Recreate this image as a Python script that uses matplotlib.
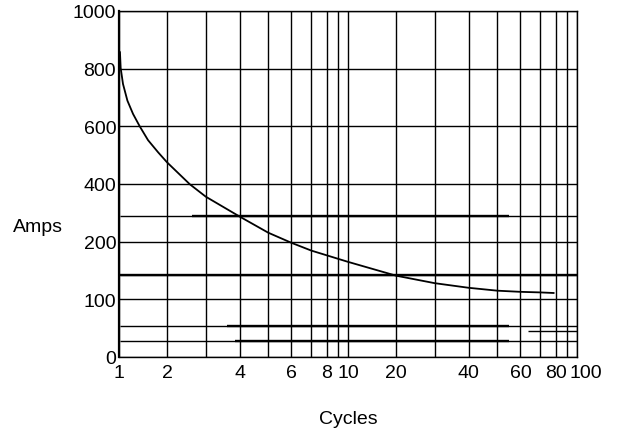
import numpy as np
import matplotlib
matplotlib.use("Agg")
import matplotlib.pyplot as plt
from matplotlib import transforms

# ---------------- data ----------------
cycles = [1.02, 1.035, 1.083, 1.175, 1.292, 1.431, 1.604, 1.813, 2, 2.588,
          3, 4, 5, 6, 7, 10, 20, 30, 40, 50, 60, 70, 78.5]
amps = [857, 802, 747, 689, 643, 600, 552, 510, 475, 399,
        356, 287, 231, 198, 184.5, 165, 141, 128, 120, 115, 113, 112, 111]

# reference lines: amps level, start cycle, end cycle
ref_amps = [288, 142, 54, 45, 27]
ref_start = [1.02, 1.02, 1.02, 64, 1.02]
ref_end = [100, 100, 100, 100, 100]
# heavier overdrawn portions of reference lines
heavy_amps = [288, 142, 54, 27]
heavy_start = [2.65, 1.02, 3.64, 3.87]
heavy_end = [55, 100, 55, 55]

x_tick_vals = [1, 2, 4, 6, 8, 10, 20, 40, 60, 80, 100]
x_tick_labels = ["1", "2", "4", "6", "8", "10", "20", "40", "60", "80", "100"]
x_grid_vals = [1, 2, 3, 4, 5, 6, 7, 8, 9, 10, 20, 30, 40, 50, 60, 70, 80, 90, 100]
y_tick_vals = [0, 100, 200, 400, 600, 800, 1000]
y_tick_labels = ["0", "100", "200", "400", "600", "800", "1000"]

# ---------------- scales ----------------
DEC_STEPS = np.arange(1, 11, dtype=float)
DEC_FRAC = np.array([0, .21, .379, .527, .652, .753, .84, .908, .956, 1.0])


def x_fwd(v):
    v = np.clip(np.asarray(v, float), 1e-6, None)
    d = np.floor(np.log10(v) + 1e-9)
    m = v / 10.0 ** d
    return d + np.interp(m, DEC_STEPS, DEC_FRAC)


def x_inv(u):
    u = np.asarray(u, float)
    d = np.floor(u + 1e-9)
    f = u - d
    return 10.0 ** d * np.interp(f, DEC_FRAC, DEC_STEPS)


Y_IDX = np.arange(len(y_tick_vals), dtype=float)


def y_fwd(v):
    return np.interp(np.asarray(v, float), y_tick_vals, Y_IDX)


def y_inv(u):
    return np.interp(np.asarray(u, float), Y_IDX, y_tick_vals)


plt.rcParams["font.family"] = ["Liberation Sans", "DejaVu Sans"]

fig = plt.figure(figsize=(6.22, 4.39), dpi=100)
ax = fig.add_axes([119 / 622, 1 - 358 / 439, 458 / 622, 346 / 439])
ax.set_xscale("function", functions=(x_fwd, x_inv))
ax.set_yscale("function", functions=(y_fwd, y_inv))
ax.set_xlim(1, 100)
ax.set_ylim(0, 1000)

# grid
for xv in x_grid_vals:
    ax.axvline(xv, color="black", lw=1.0, zorder=1)
for yv in y_tick_vals:
    ax.axhline(yv, color="black", lw=1.0, zorder=1)

# reference lines
for a, s, e in zip(ref_amps, ref_start, ref_end):
    ax.plot([s, e], [a, a], color="black", lw=1.0, zorder=2, solid_capstyle="butt")
for a, s, e in zip(heavy_amps, heavy_start, heavy_end):
    ax.plot([s, e], [a, a], color="black", lw=1.7, zorder=2, solid_capstyle="butt")

# curve
ax.plot(cycles, amps, color="black", lw=1.3, zorder=3, solid_joinstyle="round",
        antialiased=True)

ax.set_xticks(x_tick_vals)
ax.set_xticklabels(x_tick_labels)
ax.set_xticks([], minor=True)
ax.set_yticks(y_tick_vals)
ax.set_yticklabels(y_tick_labels)
ax.set_yticks([], minor=True)
ax.tick_params(axis="both", length=0, labelsize=14, colors="black")
ax.tick_params(axis="x", pad=5)
ax.tick_params(axis="y", pad=2)

for lab in ax.get_xticklabels():
    if lab.get_text() == "100":
        lab.set_transform(lab.get_transform() +
                          transforms.ScaledTranslation(9 / 100, 0, fig.dpi_scale_trans))

for name, sp in ax.spines.items():
    sp.set_color("black")
    sp.set_linewidth(1.0)
ax.spines["left"].set_linewidth(1.6)

fig.text(13 / 622, 1 - 227 / 439, "Amps", fontsize=14, ha="left", va="center")
fig.text(348 / 622, 1 - 420 / 439, "Cycles", fontsize=14, ha="center", va="center")

fig.savefig("out.png", dpi=100, facecolor="white")
